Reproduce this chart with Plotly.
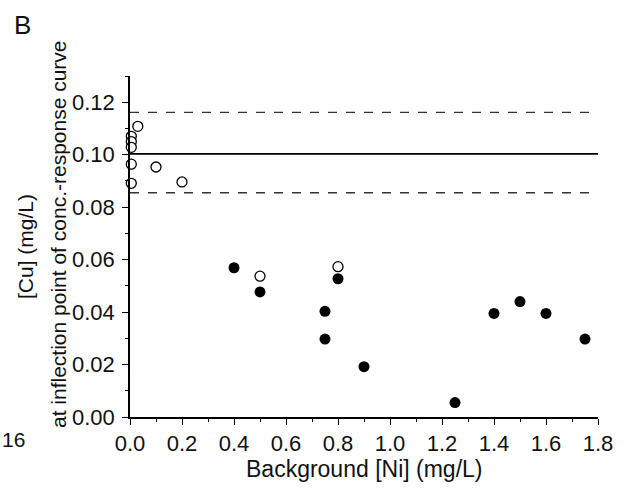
import plotly.graph_objects as go

# Background Ni concentration (mg/L) and Cu at inflection point (mg/L)
ni_open = [0.005, 0.005, 0.005, 0.005, 0.005, 0.03, 0.1, 0.2, 0.5, 0.8]
cu_open = [0.107, 0.105, 0.1028, 0.0964, 0.0891, 0.1108, 0.0953, 0.0896, 0.0537, 0.0573]

ni_filled = [0.4, 0.5, 0.75, 0.75, 0.8, 0.9, 1.25, 1.4, 1.5, 1.6, 1.75]
cu_filled = [0.0569, 0.0477, 0.0403, 0.0297, 0.0527, 0.0192, 0.0055, 0.0395, 0.044, 0.0395, 0.0297]

# Reference EC50 level and its confidence band
ref_mean = 0.1003
ref_upper = 0.1161
ref_lower = 0.0855

x_ticks = [0.0, 0.2, 0.4, 0.6, 0.8, 1.0, 1.2, 1.4, 1.6, 1.8]
y_ticks = [0.00, 0.02, 0.04, 0.06, 0.08, 0.10, 0.12]

FONT = "Liberation Sans, Arial, sans-serif"

fig = go.Figure()

fig.add_trace(go.Scatter(
    x=ni_filled, y=cu_filled, mode="markers",
    marker=dict(size=11, color="black", line=dict(width=0)),
    cliponaxis=False, showlegend=False,
))
fig.add_trace(go.Scatter(
    x=ni_open, y=cu_open, mode="markers",
    marker=dict(size=10, color="white", line=dict(width=1.3, color="black")),
    cliponaxis=False, showlegend=False,
))

fig.add_shape(type="line", xref="paper", x0=0, x1=1, yref="y", y0=ref_mean, y1=ref_mean,
              line=dict(color="black", width=1.6))
for yv in (ref_upper, ref_lower):
    fig.add_shape(type="line", xref="paper", x0=0, x1=1, yref="y", y0=yv, y1=yv,
                  line=dict(color="#333333", width=1.3, dash="dash"))

axis_common = dict(
    showgrid=False, zeroline=False, showline=True, linecolor="black", linewidth=1.5,
    ticks="outside", ticklen=6, tickwidth=1.3, tickcolor="black",
    tickfont=dict(family=FONT, size=22, color="#111111"),
    mirror=False,
)

fig.update_xaxes(
    range=[0, 1.8], tickvals=x_ticks, ticktext=[f"{v:.1f}" for v in x_ticks],
    minor=dict(ticks="outside", ticklen=3, tickwidth=1.2, tickcolor="black", dtick=0.1, tick0=0),
    **axis_common,
)
fig.update_yaxes(
    range=[0, 0.13], tickvals=y_ticks, ticktext=[f"{v:.2f}" for v in y_ticks],
    minor=dict(ticks="outside", ticklen=3, tickwidth=1.2, tickcolor="black", dtick=0.01, tick0=0),
    ticklabelstandoff=3,
    **axis_common,
)

L, R, T, B = 130, 26, 76, 77
W, H = 624, 494
pw, ph = W - L - R, H - T - B


def px(xp):
    return (xp - L) / pw


def py(yp):
    return (H - B - yp) / ph


annotations = [
    dict(text="Background [Ni] (mg/L)", x=px(364), y=py(469), xref="paper", yref="paper",
         showarrow=False, font=dict(family=FONT, size=23, color="#111111"),
         xanchor="center", yanchor="middle"),
    dict(text="[Cu] (mg/L)", x=px(25), y=py(247), xref="paper", yref="paper",
         showarrow=False, textangle=-90, font=dict(family=FONT, size=21, color="#111111"),
         xanchor="center", yanchor="middle"),
    dict(text="at inflection point of conc.-response curve", x=px(58), y=py(234),
         xref="paper", yref="paper", showarrow=False, textangle=-90,
         font=dict(family=FONT, size=21, color="#111111"), xanchor="center", yanchor="middle"),
    dict(text="B", x=px(12), y=py(25), xref="paper", yref="paper", showarrow=False,
         font=dict(family=FONT, size=26, color="#111111"), xanchor="left", yanchor="middle"),
    dict(text="16", x=px(0), y=py(439), xref="paper", yref="paper", showarrow=False,
         font=dict(family=FONT, size=21, color="#111111"), xanchor="left", yanchor="middle"),
]

fig.update_layout(
    width=W, height=H,
    margin=dict(l=L, r=R, t=T, b=B),
    paper_bgcolor="white", plot_bgcolor="white",
    annotations=annotations,
    showlegend=False,
)

fig.write_html("out.html")
